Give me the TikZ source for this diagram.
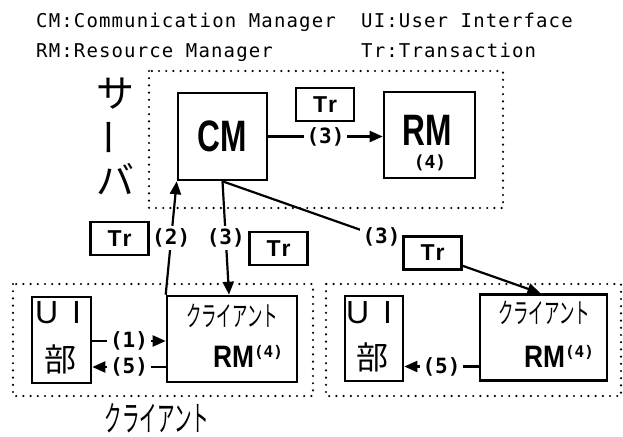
\documentclass[tikz,border=0pt]{standalone}
\usepackage{fontspec}
\usepackage{graphicx}
\setmainfont{Liberation Sans}
\newfontfamily\jp{Noto Sans CJK JP}
\newfontfamily\legendfont[LetterSpace=6]{DejaVu Sans Mono}
\newfontfamily\monofam{DejaVu Sans Mono}
\usetikzlibrary{arrows.meta}
\tikzset{
  box/.style={draw, line width=2.6pt, fill=white, inner sep=0pt},
  dotbox/.style={line width=2.4pt, line cap=round, dash pattern=on 0pt off 7.2pt},
  conn/.style={line width=2.2pt},
  arr/.style={conn, -{Triangle[length=13pt,width=11pt]}},
  lab/.style={fill=white, inner sep=3pt, font=\fontsize{21}{21}\selectfont\monofam\bfseries},
  trbox/.style={box, line width=2.4pt, minimum width=58pt, minimum height=33pt, font=\fontsize{23}{23}\selectfont\bfseries},
  big/.style={font=\fontsize{44}{44}\selectfont\bfseries},
  legend/.style={anchor=base west, inner sep=0pt, font=\fontsize{19}{19}\selectfont\legendfont},
  jtext/.style={inner sep=0pt, font=\jp},
  uitext/.style={inner sep=0pt, font=\fontsize{32}{32}\selectfont},
}
\begin{document}
\begin{tikzpicture}[x=1pt,y=-1pt]
\useasboundingbox[fill=white] (0,0) rectangle (623,436);

% legend
\node[legend] (lg1) at (36,28) {CM:Communication Manager};
\node[legend] (lg2) at (361,28) {UI:User Interface};
\node[legend] (lg3) at (36,57) {RM:Resource Manager};
\node[legend] (lg4) at (361,57) {Tr:Transaction};

% dotted groups
\draw[dotbox] (149,71) rectangle (503,208);
\draw[dotbox] (13,284) rectangle (313,396);
\draw[dotbox] (326,284) rectangle (621,396);

% server label
\node[jtext, font=\jp\fontsize{38}{38}\selectfont] (sa) at (115,94) {サ};
\node[jtext, font=\jp\fontsize{38}{38}\selectfont, rotate=90] (sb) at (115,137) {ー};
\node[jtext, font=\jp\fontsize{38}{38}\selectfont] (sc) at (115,179) {バ};

% server boxes
\node[box, big, minimum width=89pt, minimum height=87pt] (cm) at (222.5,136.5) {\scalebox{0.72}[1]{CM}};
\node[box, minimum width=91pt, minimum height=86pt] (rms) at (429.5,135) {};
\node[inner sep=0pt, big] (rmsT) at (427.5,130.5) {\scalebox{0.72}[1]{RM}};
\node[inner sep=0pt, font=\fontsize{18}{18}\selectfont\monofam\bfseries] (rms4) at (430,163) {(4)};

% client 1
\node[box, minimum width=59pt, minimum height=86pt] (ui1) at (61.5,340) {};
\node[uitext] (ui1t) at (58,313) {U\kern14pt I};
\node[jtext, font=\jp\fontsize{32}{32}\selectfont] (ui1b) at (60,359) {部};
\node[box, minimum width=130pt, minimum height=86pt] (rmc1) at (232,339) {};
\node[jtext, font=\jp\fontsize{28}{28}\selectfont] (rmc1k) at (232,316) {\scalebox{0.55}[1]{クライアント}};
\node[inner sep=0pt, anchor=base, font=\fontsize{31}{31}\selectfont\bfseries] (rmc1r) at (248,367)
  {\scalebox{0.85}[1]{RM}\raisebox{10pt}{\fontsize{16}{16}\selectfont\monofam\bfseries (4)}};

% client 2
\node[box, minimum width=58pt, minimum height=85pt] (ui2) at (374,338.5) {};
\node[uitext] (ui2t) at (369,313) {U\kern14pt I};
\node[jtext, font=\jp\fontsize{32}{32}\selectfont] (ui2b) at (372,357) {部};
\node[box, minimum width=127pt, minimum height=86pt] (rmc2) at (543.5,337.5) {};
\node[jtext, font=\jp\fontsize{28}{28}\selectfont] (rmc2k) at (544,313) {\scalebox{0.55}[1]{クライアント}};
\node[inner sep=0pt, anchor=base, font=\fontsize{31}{31}\selectfont\bfseries] (rmc2r) at (559,367)
  {\scalebox{0.85}[1]{RM}\raisebox{10pt}{\fontsize{16}{16}\selectfont\monofam\bfseries (4)}};

% client label
\node[jtext, font=\jp\fontsize{35}{35}\selectfont] (cl) at (157,418) {\scalebox{0.5}[1]{クライアント}};

% connectors
\draw[arr] (cm.east) -- node[lab] (l3a) {(3)} (cm.east -| rms.west);
\draw[arr] (rmc1.north west) -- node[lab] (l2) {(2)} (cm.south west);
\draw[arr] (cm.south) -- node[lab] (l3b) {(3)} ([xshift=-3pt]rmc1.north);
\draw[arr] (cm.south) -- node[lab] (l3c) {(3)} ([xshift=-3pt]rmc2.north);
\draw[arr] ([yshift=-1pt]ui1.east) -- node[lab] (l1) {(1)} ([yshift=-1pt]ui1.east -| rmc1.west);
\draw[arr] ([yshift=-28pt]rmc1.west) -- node[lab] (l5) {(5)} ([yshift=-28pt]rmc1.west -| ui1.east);
\draw[arr] ([yshift=-29pt]rmc2.west) -- node[lab] (l5b) {(5)} ([yshift=-29pt]rmc2.west -| ui2.east);

% transaction boxes
\node[trbox] (tr0) at (325,104.5) {T\kern1pt r};
\node[trbox] (tr1) at (119.5,238.5) {T\kern1pt r};
\node[trbox] (tr2) at (278.5,248.5) {T\kern1pt r};
\node[trbox] (tr3) at (432.5,253) {T\kern1pt r};
\end{tikzpicture}
\end{document}
